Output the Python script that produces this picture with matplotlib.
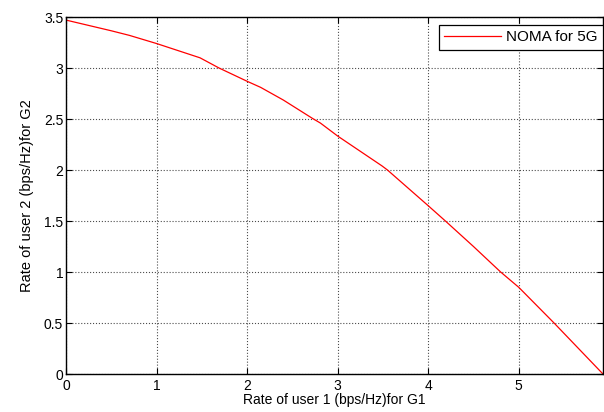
import matplotlib
matplotlib.use("Agg")
import matplotlib.pyplot as plt

plt.rcParams['font.family'] = ['Liberation Sans', 'DejaVu Sans']

# rate pairs
rate_user1 = [0, 0.5, 0.7, 1.0, 1.48, 1.69, 2.0, 2.15, 2.4, 2.72, 2.81, 3.0,
              3.49, 3.55, 4.0, 4.19, 4.5, 4.8, 5.0, 5.39, 5.93]
rate_user2 = [3.47, 3.365, 3.32, 3.24, 3.1, 3.0, 2.87, 2.81, 2.686, 2.507, 2.46, 2.333,
              2.04, 2.0, 1.65, 1.50, 1.25, 1.0, 0.85, 0.50, 0.0]

fig = plt.figure(figsize=(6.04, 4.12), dpi=100)
ax = fig.add_axes([0.1093, 0.0922, 0.889, 0.8665])

ax.plot(rate_user1, rate_user2, color="red", linewidth=0.9, label="NOMA for 5G")

ax.set_xlim(0, max(rate_user1))
ax.set_ylim(0, 3.5)
ax.set_xticks([0, 1, 2, 3, 4, 5])
ax.set_yticks([0, 0.5, 1, 1.5, 2, 2.5, 3, 3.5])
ax.set_yticklabels(["0", "0.5", "1", "1.5", "2", "2.5", "3", "3.5"])

ax.grid(True, color="black", linestyle=":", linewidth=0.8, alpha=0.7)
ax.tick_params(direction="in", top=True, right=True, labelsize=10, length=4, width=0.8)
ax.tick_params(axis="x", pad=3.5)
ax.tick_params(axis="y", pad=2)
for s in ax.spines.values():
    s.set_linewidth(1.0)

ax.set_xlabel("Rate of user 1 (bps/Hz)for G1", fontsize=10, labelpad=0)
ax.set_ylabel("Rate of user 2 (bps/Hz)for G2", fontsize=10.5, labelpad=7)

leg = ax.legend(loc="upper right", bbox_to_anchor=(1.0, 1 - 8 / 357), borderaxespad=0,
                fontsize=11, fancybox=False, edgecolor="black", framealpha=1,
                handlelength=3.7, handletextpad=0.35, borderpad=0.35)
leg.get_frame().set_linewidth(0.9)

fig.savefig("out.png", dpi=100)
